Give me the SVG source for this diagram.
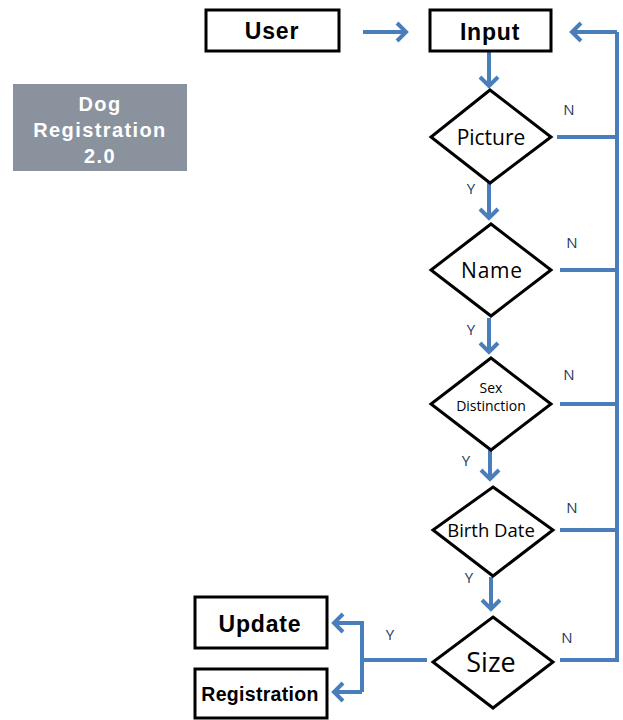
<svg xmlns="http://www.w3.org/2000/svg" width="623" height="720" viewBox="0 0 623 720">
<style>
.box{fill:#fff;stroke:#000;stroke-width:3}
.dia{fill:#fff;stroke:#000;stroke-width:3;stroke-linejoin:miter}
.bt{font-family:"Liberation Sans",Arial,sans-serif;font-weight:bold;font-size:23px;letter-spacing:0.8px;fill:#000;text-anchor:middle}
.dt{font-family:"Open Sans","Noto Sans",sans-serif;fill:#000;text-anchor:middle}
.lab{font-family:"Open Sans","Noto Sans",sans-serif;font-size:15px;fill:#1f3a5a;text-anchor:middle}
.tt{font-family:"Liberation Sans",Arial,sans-serif;font-weight:bold;font-size:20px;letter-spacing:1.4px;fill:#fff;text-anchor:middle}
.c{fill:none;stroke:#4a7ebb;stroke-width:4}
.a{marker-end:url(#ah)}
</style>
<defs>
<marker id="ah" markerUnits="userSpaceOnUse" refX="0" refY="0" markerWidth="20" markerHeight="20" orient="auto" overflow="visible">
<path d="M-10,-9 L-1,0 L-10,9" fill="none" stroke="#4a7ebb" stroke-width="4" stroke-linejoin="miter" stroke-linecap="butt"/>
</marker>
</defs>
<g id="title">
<rect x="13" y="84" width="174" height="87" fill="#8a929e"/>
<text class="tt" x="100" y="111">Dog</text>
<text class="tt" x="100" y="137">Registration</text>
<text class="tt" x="100" y="163">2.0</text>
</g>
<g id="connectors">
<path class="c a" d="M363,32 H407"/>
<path class="c a" d="M489,52 V87"/>
<path class="c a" d="M489,183 V219"/>
<path class="c a" d="M489,318 V353"/>
<path class="c a" d="M490,450 V480"/>
<path class="c a" d="M491,577 V610"/>
<path class="c" d="M557,137 H617"/>
<path class="c" d="M560,270 H617"/>
<path class="c" d="M560,404 H617"/>
<path class="c" d="M560,530 H617"/>
<path class="c" d="M560,660 H617 V32"/>
<path class="c a" d="M617,32 H571"/>
<path class="c" d="M427,660 H362"/>
<path class="c a" d="M362,692 V623 H333"/>
<path class="c a" d="M362,692 H333"/>
<text class="lab" x="569" y="115">N</text>
<text class="lab" x="572" y="248">N</text>
<text class="lab" x="569" y="380">N</text>
<text class="lab" x="572" y="513">N</text>
<text class="lab" x="567" y="643">N</text>
<text class="lab" x="471" y="194">Y</text>
<text class="lab" x="471" y="335">Y</text>
<text class="lab" x="466" y="466">Y</text>
<text class="lab" x="469" y="583">Y</text>
<text class="lab" x="390" y="640">Y</text>
</g>
<g id="user"><rect class="box" x="206" y="10" width="133" height="41"/><text class="bt" x="272" y="39">User</text></g>
<g id="input"><rect class="box" x="430" y="10" width="121" height="41"/><text class="bt" x="490" y="40">Input</text></g>
<g id="picture"><polygon class="dia" points="490,90 551,137 490,183 431,137"/><text class="dt" x="491" y="145" font-size="21">Picture</text></g>
<g id="name"><polygon class="dia" points="491,224 551,270 491,316 431,270"/><text class="dt" x="492" y="278" font-size="21" letter-spacing="0.8">Name</text></g>
<g id="sex"><polygon class="dia" points="491,358 551,404 491,450 431,404"/><text class="dt" x="491" y="393" font-size="14">Sex</text><text class="dt" x="491" y="411" font-size="14">Distinction</text></g>
<g id="birth"><polygon class="dia" points="493,487 553,530 493,576 433,530"/><text class="dt" x="491" y="537" font-size="18.5">Birth Date</text></g>
<g id="size"><polygon class="dia" points="493,617 553,662 493,708 433,662"/><text class="dt" x="491" y="672" font-size="27">Size</text></g>
<g id="update"><rect class="box" x="195" y="597" width="132" height="51"/><text class="bt" x="260" y="632">Update</text></g>
<g id="registration"><rect class="box" x="195" y="669" width="132" height="49"/><text class="bt" x="260" y="701" style="font-size:19.5px;letter-spacing:0.3px">Registration</text></g>
</svg>
